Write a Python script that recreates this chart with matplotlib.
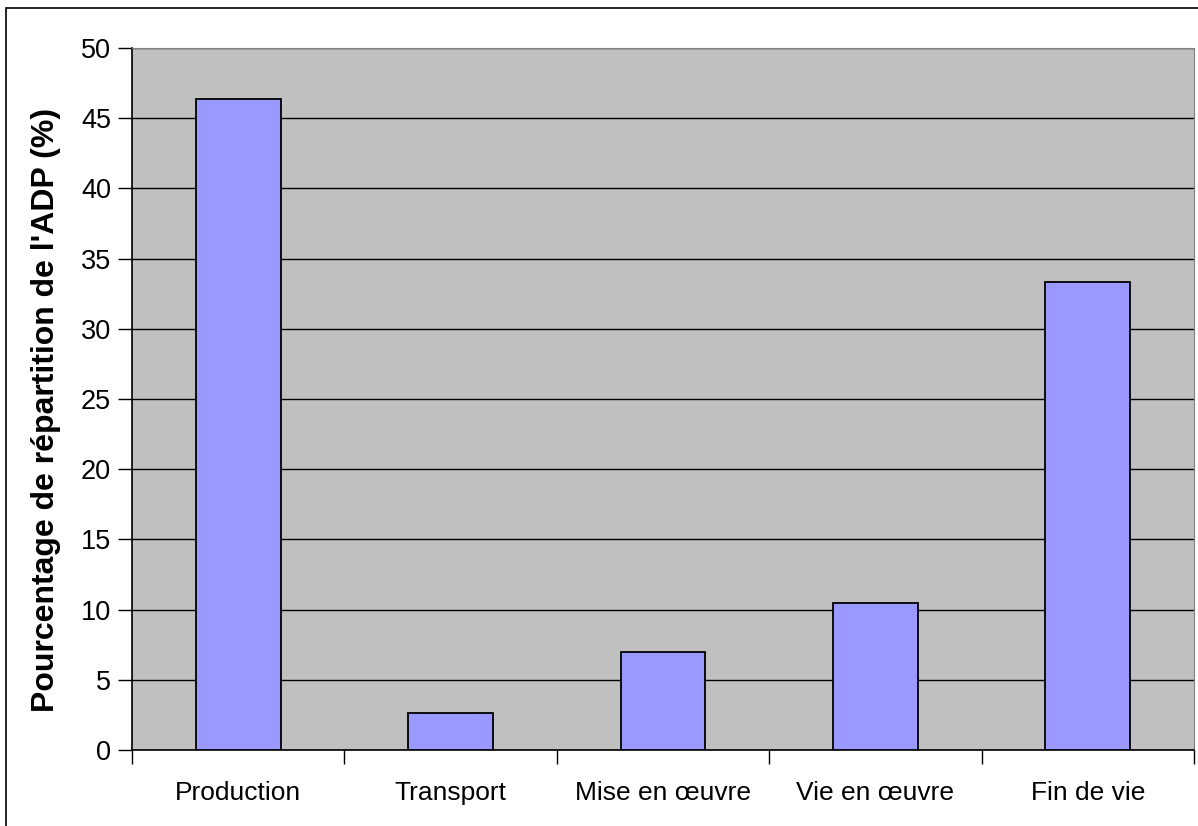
import matplotlib
matplotlib.use('Agg')
import matplotlib.pyplot as plt
from matplotlib.patches import Rectangle

# donnees
categories = ['Production', 'Transport', 'Mise en œuvre', 'Vie en œuvre', 'Fin de vie']
valeurs = [46.4, 2.6, 7.0, 10.5, 33.3]
yticks = [0, 5, 10, 15, 20, 25, 30, 35, 40, 45, 50]

plt.rcParams['font.family'] = ['Liberation Sans', 'DejaVu Sans']

fig = plt.figure(figsize=(11.98, 8.26), dpi=100)
ax = fig.add_axes([132 / 1198, 1 - 750 / 826, (1194 - 132) / 1198, (750 - 48) / 826])

# cadre exterieur
fig.patches.append(Rectangle((6 / 1198, -0.1), 1.2, 1 - 8 / 826 + 0.1, transform=fig.transFigure,
                             fill=False, edgecolor='black', linewidth=1.2))

ax.set_facecolor('#C0C0C0')
x = list(range(len(categories)))
ax.bar(x, valeurs, width=0.4, color='#9999FF', edgecolor='black', linewidth=1.3, zorder=3)

ax.set_xlim(-0.5, len(categories) - 0.5)
ax.set_ylim(0, 50)
ax.set_yticks(yticks)
ax.yaxis.grid(True, color='black', linewidth=1.0, zorder=1)
ax.set_axisbelow(True)

# ticks de categories aux limites
ax.set_xticks([i - 0.5 for i in range(len(categories) + 1)])
ax.set_xticklabels([])
ax.set_xticks(x, minor=True)
ax.set_xticklabels(categories, minor=True, fontsize=19)
ax.tick_params(axis='x', which='minor', length=0, pad=22)
ax.tick_params(axis='x', which='major', length=10, width=1, direction='out')
ax.tick_params(axis='y', length=10, width=1, labelsize=19.5, pad=5)

ax.spines['top'].set_color('#808080')
ax.spines['right'].set_color('#808080')
ax.spines['left'].set_linewidth(1.2)
ax.spines['bottom'].set_linewidth(1.2)

ax.set_ylabel("Pourcentage de répartition de l'ADP (%)", fontsize=23, fontweight='bold')
ax.yaxis.set_label_coords(-0.067, 0.484)

plt.savefig('out.png', dpi=100)
